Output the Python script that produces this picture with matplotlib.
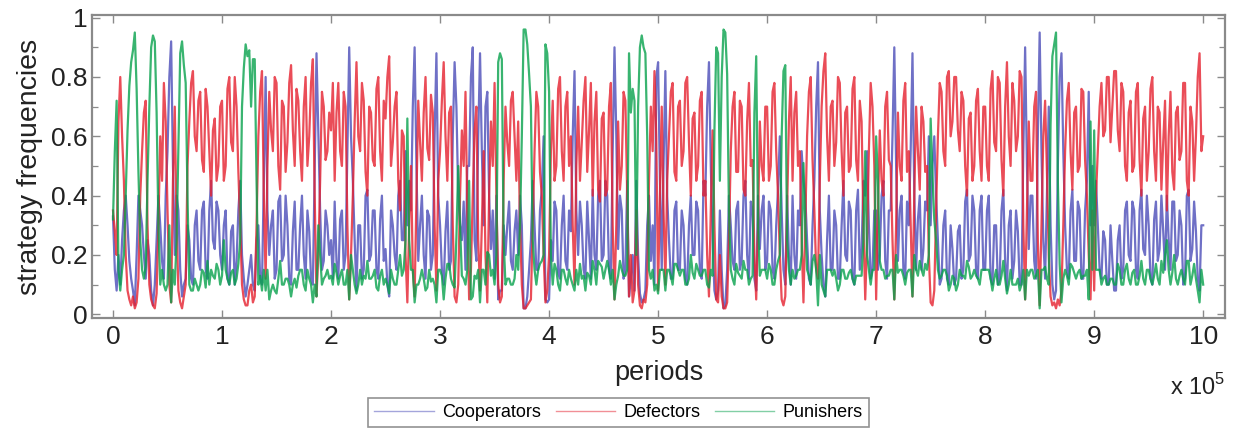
import numpy as np
import matplotlib
matplotlib.use("Agg")
import matplotlib.pyplot as plt
from matplotlib.ticker import MultipleLocator

plt.rcParams['font.family'] = ['Liberation Sans', 'DejaVu Sans']

# strategy frequencies (percent), 60 samples per 1e5 periods
defectors_pct = [
    35,28,20,65,80,60,45,20,8,5,3,6,2,4,12,40,55,68,72,30,10,5,3,2,7,30,60,45,78,65,35,10,4,45,70,30,8,4,2,6,10,50,65,78,82,60,55,72,75,52,48,76,70,55,40,62,66,45,50,70,
    72,45,50,76,80,58,55,80,70,48,30,10,5,3,3,8,10,4,6,30,60,75,82,40,12,50,75,62,55,80,78,50,42,72,70,48,58,78,84,62,50,76,72,55,45,70,80,50,60,78,86,40,6,20,45,75,70,52,55,68,
    62,78,45,68,78,55,50,75,70,30,5,20,40,65,85,60,55,78,72,48,40,70,68,52,50,76,80,55,45,72,66,80,87,50,58,70,75,45,35,62,60,20,4,30,50,15,6,40,72,58,45,68,80,56,52,74,68,30,8,45,
    55,72,85,60,45,68,70,30,6,4,10,40,62,50,75,35,5,15,40,62,70,25,8,30,55,20,4,40,65,50,78,40,10,4,6,45,70,58,50,72,75,60,45,65,30,10,2,2,3,4,5,30,55,75,70,48,40,20,4,8,
    20,55,72,45,50,76,80,55,45,70,75,50,60,30,10,50,70,45,58,72,80,48,62,78,40,65,75,42,38,66,68,40,42,70,78,30,5,30,65,42,50,75,72,40,6,20,4,8,35,10,3,2,5,4,10,45,70,55,82,60,
    8,40,70,35,10,45,60,75,78,48,45,70,72,50,55,78,80,58,40,66,68,45,50,72,75,40,45,20,6,35,62,30,5,4,20,6,2,2,4,25,55,70,75,48,48,72,70,42,40,65,78,50,52,20,5,30,65,50,45,70,
    70,45,50,75,78,55,40,20,5,3,6,35,65,80,45,68,75,50,55,25,4,30,60,75,80,52,35,15,12,45,70,82,88,60,45,70,72,50,58,80,78,55,40,68,70,48,50,76,80,52,45,72,65,30,5,25,55,78,70,50,
    5,35,62,45,40,70,75,52,50,25,5,30,68,50,45,72,78,48,55,30,6,40,70,55,42,70,65,48,50,20,4,3,8,35,60,78,75,55,50,80,82,60,65,80,80,62,55,75,72,50,40,66,68,45,50,72,76,55,45,70,
    70,50,45,76,82,58,55,80,78,52,40,70,85,60,50,78,72,55,60,82,80,30,5,35,65,45,45,70,75,25,3,30,60,72,48,20,6,3,4,2,5,3,8,30,55,72,78,55,42,68,70,48,50,76,75,52,40,20,5,35,
    8,40,55,70,78,60,62,80,80,58,70,82,82,62,55,78,75,50,45,68,72,48,50,75,78,52,40,66,70,45,55,76,80,55,45,70,68,42,58,72,35,60,75,48,42,68,70,52,55,78,78,45,40,70,65,45,60,80,88,55,
    60,
]
cooperators_pct = [
    33,15,8,20,10,25,35,40,30,18,12,8,3,20,40,35,30,20,12,25,20,8,3,10,25,40,30,18,12,40,55,80,92,50,20,40,35,15,6,10,12,30,25,12,10,30,35,18,15,35,38,15,12,35,45,25,22,38,35,20,
    15,30,35,12,10,28,30,10,18,35,45,20,12,6,10,15,20,10,8,25,30,12,10,45,80,35,20,30,35,12,15,38,40,18,20,40,30,12,10,28,38,15,15,30,40,20,12,35,28,12,10,50,88,62,35,15,18,35,30,20,
    25,12,38,18,12,32,35,15,20,55,90,60,45,25,8,30,30,12,15,40,42,18,20,35,35,15,12,32,40,18,22,10,6,35,30,20,15,40,45,25,25,55,30,45,35,70,90,50,18,30,40,20,12,35,33,15,20,60,88,40,
    30,15,10,28,38,15,18,60,85,70,40,30,25,38,15,50,50,80,90,25,18,60,88,55,30,70,75,40,22,35,12,40,5,8,8,30,20,30,38,18,15,28,35,20,40,30,2,2,6,15,25,45,30,15,15,35,42,60,5,4,
    5,25,18,38,35,14,12,30,40,18,15,35,28,60,82,35,20,38,30,15,12,38,25,12,42,20,15,40,45,18,20,45,40,15,12,55,90,60,22,40,35,12,15,45,6,12,20,8,45,20,7,4,5,8,30,40,18,30,10,80,
    85,45,15,50,82,40,25,12,12,35,38,15,15,35,30,12,10,30,40,20,20,38,35,15,12,45,40,70,85,50,25,8,5,8,35,15,2,3,15,40,30,18,15,35,38,15,18,40,45,20,12,38,35,12,8,40,22,35,40,15,
    18,38,35,15,12,30,42,60,35,15,10,40,20,10,40,20,12,35,30,55,45,40,25,12,10,30,45,70,85,35,20,10,6,25,40,15,15,35,30,12,12,30,45,20,18,38,35,12,10,35,42,15,22,45,40,55,30,12,15,35,
    35,15,20,40,45,18,12,35,35,60,90,50,18,35,40,15,12,38,30,55,88,40,15,32,40,15,22,38,35,60,30,50,60,40,25,10,12,30,35,12,10,30,22,10,12,28,30,12,15,38,42,18,20,40,35,15,12,35,40,15,
    15,35,40,12,10,30,30,10,12,35,42,18,8,30,35,12,18,35,28,10,10,55,90,50,22,40,40,18,12,60,95,55,25,12,40,70,30,10,5,8,50,80,88,55,30,15,12,35,42,18,18,38,35,12,12,35,45,75,30,50,
    30,45,30,15,12,28,25,10,10,30,18,8,8,25,30,12,15,35,38,20,18,38,35,15,12,35,42,22,20,40,30,12,10,32,38,18,22,40,28,15,40,25,15,38,38,18,20,35,30,10,12,40,42,18,22,38,28,12,8,30,
    30,
]
punishers_pct = [
    32,55,72,15,8,15,20,40,62,77,85,89,95,76,48,25,15,12,16,45,70,90,94,92,68,30,10,15,10,8,10,30,4,15,10,25,57,88,92,84,78,40,10,8,8,12,10,8,10,15,14,9,18,10,15,13,12,17,15,10,
    13,25,15,12,10,14,15,10,12,17,25,70,83,91,87,89,70,86,86,45,10,13,8,15,8,15,5,8,10,8,7,12,18,10,10,12,12,10,6,10,12,9,13,15,15,10,8,15,12,10,4,10,6,30,20,10,12,13,15,12,
    13,10,17,14,10,13,15,10,10,15,5,20,15,10,7,10,15,10,13,12,18,12,12,13,15,9,8,13,15,10,12,10,7,15,12,10,10,15,20,13,15,25,66,25,15,15,4,10,10,12,15,12,8,9,15,11,12,10,4,15,
    15,13,5,12,17,17,12,10,9,26,50,30,13,12,10,15,45,5,6,13,12,15,4,15,15,10,21,20,13,15,10,20,85,88,86,25,10,12,12,10,10,12,20,15,30,60,96,96,91,81,70,25,15,10,15,17,18,20,91,88,
    75,20,10,17,15,10,8,15,15,12,10,15,12,10,8,15,10,17,12,13,8,14,13,10,18,15,10,18,17,16,12,15,18,15,10,15,5,10,13,18,15,13,13,15,88,68,76,72,20,70,90,94,90,88,60,15,12,15,8,10,
    7,15,15,15,8,15,15,13,10,17,17,15,13,15,15,10,10,12,20,14,12,17,15,13,13,15,15,10,9,15,13,62,90,88,45,80,96,95,81,35,15,12,10,17,14,13,12,18,15,15,10,12,13,68,87,30,13,15,15,15,
    12,17,15,10,10,15,18,20,60,82,84,25,15,10,15,12,13,15,15,20,51,30,15,13,10,18,20,15,3,20,10,8,6,15,15,15,13,15,12,8,10,15,15,12,12,14,15,12,10,13,13,13,13,25,55,20,15,10,15,15,
    60,45,18,15,15,12,13,13,15,15,5,20,14,15,15,13,10,14,15,15,6,20,15,13,18,15,13,17,15,20,66,47,32,25,15,12,13,15,15,13,8,10,13,12,8,10,15,13,13,12,18,16,12,13,15,13,12,10,15,15,
    15,15,15,12,8,12,15,10,10,13,18,12,7,10,15,10,10,10,12,8,10,15,5,15,13,15,15,12,13,15,2,15,15,16,12,10,64,87,91,95,45,17,4,12,15,13,10,17,16,14,12,14,15,12,13,13,15,5,65,15,
    62,15,15,15,10,12,13,10,10,12,12,10,10,17,15,10,10,15,17,12,10,14,15,10,10,13,18,12,10,15,15,12,10,13,17,12,10,18,14,20,25,15,10,14,20,12,10,13,15,12,10,18,18,10,13,17,12,8,4,15,
    10,
]
series_names = ["Cooperators", "Defectors", "Punishers"]
series_colors = ["#4b4cb8", "#e5202e", "#07a14c"]
x_tick_labels = [str(i) for i in range(11)]
y_tick_labels = ["0", "0.2", "0.4", "0.6", "0.8", "1"]

n = len(defectors_pct)
assert len(cooperators_pct) == n and len(punishers_pct) == n
periods = np.linspace(0, 1e6, n)

fig = plt.figure(figsize=(12.36, 4.32), dpi=100)
ax = fig.add_axes([0.0744, 0.2639, 0.9167, 0.7014])

for vals, name, col in zip([cooperators_pct, defectors_pct, punishers_pct], series_names, series_colors):
    ax.plot(periods, np.asarray(vals) / 100.0, color=col, lw=1.6, alpha=0.8, label=name)

ax.set_xlim(-0.193e5, 10.2e5)
ax.set_ylim(-0.0125, 1.009)
ax.set_xticks(np.arange(11) * 1e5, labels=x_tick_labels)
ax.set_yticks(np.linspace(0, 1, 6), labels=y_tick_labels)
ax.yaxis.set_minor_locator(MultipleLocator(0.1))

for s in ax.spines.values():
    s.set_color("#8a8a8a")
    s.set_linewidth(1.6)

ax.tick_params(axis="both", which="both", direction="in", top=True, right=True,
               color="#8a8a8a", labelcolor="#222222")
ax.tick_params(axis="both", which="major", length=6, width=1.0, labelsize=19)
ax.tick_params(axis="x", which="major", pad=5)
ax.tick_params(axis="y", which="major", pad=3)
ax.tick_params(axis="y", which="minor", length=4, width=0.9)

ax.set_ylabel("strategy frequencies", fontsize=20.5, color="#222222", labelpad=6)
ax.set_xlabel("periods", fontsize=19.5, color="#222222", labelpad=8)

fig.text(0.991, 0.0856, r"x 10$^{\mathregular{5}}$", ha="right", va="baseline",
         fontsize=17, color="#222222")

leg = ax.legend(loc="center", bbox_to_anchor=(0.5004, 0.045), bbox_transform=fig.transFigure,
                ncol=3, fontsize=13, frameon=True, fancybox=False, edgecolor="#777777",
                handlelength=3.3, columnspacing=0.8, handletextpad=0.45, borderpad=0.35,
                borderaxespad=0)
leg.get_frame().set_linewidth(1.2)
for line in leg.get_lines():
    line.set_linewidth(1.0)
    line.set_alpha(0.5)

fig.savefig("out.png", dpi=100)
